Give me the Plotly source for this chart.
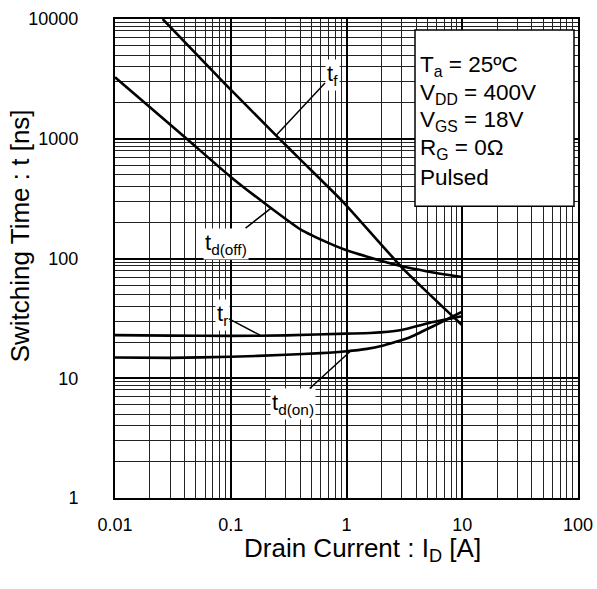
import math
import plotly.graph_objects as go

# ---- data ----
tf_x = [0.0258, 0.0892, 0.246, 0.396, 0.937, 3.09, 10]
tf_y = [10000, 2876, 1066, 675, 296, 82, 27.7]

tdoff_x = [0.01, 0.0416, 0.1, 0.2, 0.4, 0.72, 1.0, 1.7, 3.0, 5.0, 10]
tdoff_y = [3265, 1000, 480, 285, 175, 133, 117, 100, 86, 78, 70]

tr_x = [0.01, 0.03, 0.1, 0.3, 1.0, 1.6, 2.9, 5.6, 10]
tr_y = [22.9, 22.7, 22.6, 22.8, 23.6, 23.9, 25.2, 29.5, 33]

tdon_x = [0.01, 0.03, 0.1, 0.3, 0.6, 1.0, 1.5, 2.0, 3.5, 5.6, 10]
tdon_y = [14.9, 14.8, 15.1, 15.7, 16.2, 16.8, 17.6, 18.6, 21.9, 27.2, 36]

x_major = [0.01, 0.1, 1, 10, 100]
x_labels = ["0.01", "0.1", "1", "10", "100"]
y_major = [1, 10, 100, 1000, 10000]
y_labels = ["1", "10", "100", "1000", "10000"]
x_minor_steps = [2, 3, 4, 5, 6, 7, 8, 9]
y_minor_steps = [2, 3, 4, 5, 6, 7, 8, 8.67, 9.33]

x_minor = [d * s for d in x_major[:-1] for s in x_minor_steps]
y_minor = [d * s for d in y_major[:-1] for s in y_minor_steps]

FONT = "Liberation Sans, Arial, sans-serif"

fig = go.Figure()
for xs, ys in [(tf_x, tf_y), (tdoff_x, tdoff_y), (tr_x, tr_y), (tdon_x, tdon_y)]:
    fig.add_trace(go.Scatter(x=xs, y=ys, mode="lines",
                             line=dict(color="black", width=2.6, shape="spline", smoothing=0.5),
                             showlegend=False, hoverinfo="skip"))

axis_common = dict(
    type="log", showline=True, linecolor="black", linewidth=2, mirror=True,
    showgrid=True, gridcolor="black", gridwidth=1.6, ticks="", zeroline=False,
    automargin=False,
    tickfont=dict(family=FONT, size=18, color="black"),
)

fig.update_xaxes(**axis_common, range=[-2, 2], tickmode="array", tickvals=x_major, ticktext=x_labels,
                 ticklabelstandoff=9,
                 minor=dict(tickmode="array", tickvals=x_minor, showgrid=True, gridcolor="#222", gridwidth=1))
fig.update_yaxes(**axis_common, range=[0, 4], tickmode="array", tickvals=y_major, ticktext=y_labels,
                 ticklabelstandoff=31,
                 minor=dict(tickmode="array", tickvals=y_minor, showgrid=True, gridcolor="#222", gridwidth=1))

W, H = 597, 589
L, R, T, B = 115, 19, 18.5, 91
fig.update_layout(width=W, height=H, margin=dict(l=L, r=R, t=T, b=B, autoexpand=False),
                  paper_bgcolor="white", plot_bgcolor="white",
                  font=dict(family=FONT, color="black"))

pw, ph = W - L - R, H - T - B
def px(xp):
    return (xp - L) / pw
def py(yp):
    return (H - B - yp) / ph

# axis titles
fig.add_annotation(text="Drain Current : I<sub>D</sub> [A]", xref="paper", yref="paper", x=px(362), y=py(550),
                   showarrow=False, font=dict(size=26, family=FONT), xanchor="center", yanchor="middle")
fig.add_annotation(text="Switching Time : t [ns]", xref="paper", yref="paper", x=px(20), y=py(236),
                   showarrow=False, font=dict(size=26, family=FONT), textangle=-90, xanchor="center", yanchor="middle")

# conditions box
fig.add_shape(type="rect", xref="paper", yref="paper", x0=px(415), x1=px(574), y0=py(206), y1=py(29.5),
              line=dict(color="black", width=1.5), fillcolor="white", layer="above")
cond_lines = ["T<sub>a</sub> = 25ºC", "V<sub>DD</sub> = 400V", "V<sub>GS</sub> = 18V", "R<sub>G</sub> = 0Ω", "Pulsed"]
cond_y = [66, 94, 121, 149, 177]
for t, yy in zip(cond_lines, cond_y):
    fig.add_annotation(text=t, xref="paper", yref="paper", x=px(418), y=py(yy), showarrow=False,
                       xanchor="left", yanchor="middle", font=dict(size=22.5, family=FONT))

# curve labels with leader lines
labels = [
    ("t<sub>f</sub>", 0.246, 1066, 56, -60),
    ("t<sub>d(off)</sub>", 0.226, 266, -46, 36),
    ("t<sub>r</sub>", 0.179, 22.9, -38, -20),
    ("t<sub>d(on)</sub>", 1.11, 17.2, -59, 54),
]
for t, x, y, ax, ay in labels:
    fig.add_annotation(text=t, x=math.log10(x), y=math.log10(y), xref="x", yref="y", ax=ax, ay=ay,
                       showarrow=True, arrowhead=0, arrowwidth=1.5, arrowcolor="black", standoff=0,
                       bgcolor="white", font=dict(size=22, family=FONT), borderpad=1)

fig.write_html("out.html", config={"displayModeBar": False},
               post_script="document.body.style.margin='0';document.body.style.padding='0';")
